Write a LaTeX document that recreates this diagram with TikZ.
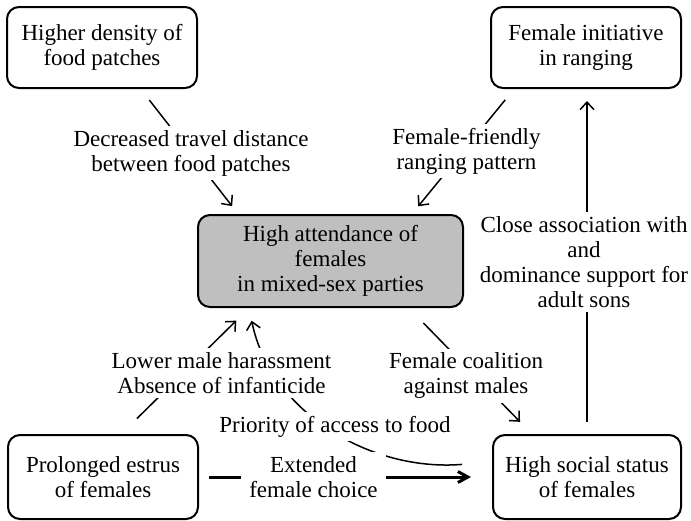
\documentclass[tikz,border=0pt]{standalone}
\usepackage{fontspec}
\setmainfont{Liberation Serif}
\usetikzlibrary{arrows.meta}

\tikzset{
  box/.style={draw, line width=1pt, rounded corners=6pt, align=center,
    minimum width=95pt, minimum height=40.5pt,
    font=\fontsize{11.5pt}{12.5pt}\selectfont},
  hub/.style={box, fill=gray!50, minimum width=132.5pt, minimum height=46pt},
  cause/.style={fill=white, align=center, inner sep=2pt,
    font=\fontsize{11.5pt}{12.5pt}\selectfont},
  link/.style={line width=0.75pt, -{Straight Barb[length=3.8pt,width=7pt]}},
}

\begin{document}
\begin{tikzpicture}[x=0.5pt, y=-0.5pt]
    \useasboundingbox (0,0) rectangle (691,520);

    \node[box] (density) at (102,47.5) {Higher density of\\food patches};
    \node[box] (initiative) at (586,47.5) {Female initiative\\in ranging};
    \node[hub] (central) at (330.5,261) {High attendance of\\females\\in mixed-sex parties};
    \node[box, minimum height=42pt] (estrus) at (103,477) {Prolonged estrus\\of females};
    \node[box, minimum width=94pt, minimum height=42pt] (status) at (587,477) {High social status\\of females};

    % links go first, the white labels are laid over them
    \draw[link, shorten <=7pt, shorten >=5pt] (density.-47) -- (central.153);
    \draw[link, shorten <=7pt, shorten >=5pt] (initiative.210) -- (central.30);
    \draw[link, shorten <=6pt, shorten >=6pt] (status.north) -- (status.north |- initiative.south);
    \draw[link, shorten <=10.5pt, shorten >=8.5pt] (central.-31) -- (status.142);
    \draw[link, shorten <=11pt, shorten >=9pt] (estrus.67) -- (central.210);
    \draw[link, shorten <=15pt, shorten >=6.5pt] (status.171) .. controls +(-123,10) and +(21,103) .. (central.210);
    \draw[link, line width=1.5pt, -{Straight Barb[length=5pt,width=5.5pt]}, shorten <=5pt, shorten >=10.5pt] (estrus) -- (status);

    \node[cause] (travel) at (191,153) {Decreased travel distance\\between food patches};
    \node[cause] (ranging) at (466.5,151) {Female-friendly\\ranging pattern};
    \node[cause] (sons) at (584,262) {Close association with\\and\\dominance support for\\adult sons};
    \node[cause] (harassment) at (221.5,373) {Lower male harassment\\Absence of infanticide};
    \node[cause] (coalition) at (466,375.7) {Female coalition\\against males};
    \node[cause] (priority) at (335,426.7) {Priority of access to food};
    \node[cause, inner xsep=4pt] (choice) at (313.5,476.7) {Extended\\female choice};

\end{tikzpicture}
\end{document}
